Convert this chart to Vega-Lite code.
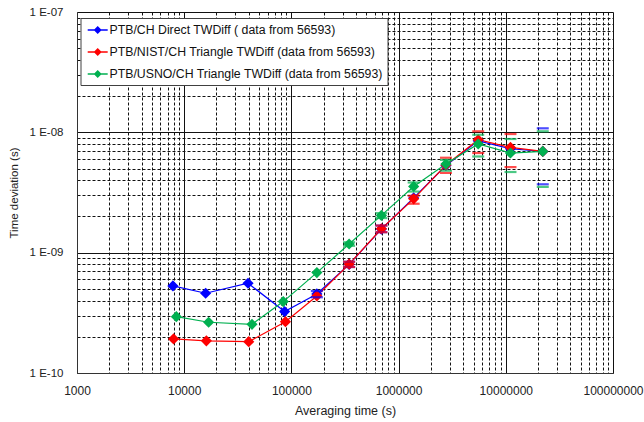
{
  "$schema": "https://vega.github.io/schema/vega-lite/v6.json",
  "autosize": {"type": "none"},
  "width": 536,
  "height": 361,
  "padding": {"left": 77, "top": 12, "right": 31, "bottom": 49},
  "background": "white",
  "config": {
    "font": "Liberation Sans",
    "view": {"stroke": null}
  },
  "data": {
    "values": [
      {"series": "PTB/CH Direct TWDiff ( data from 56593)", "tau": 7850, "tdev": 5.29e-10},
      {"series": "PTB/CH Direct TWDiff ( data from 56593)", "tau": 15850, "tdev": 4.60e-10},
      {"series": "PTB/CH Direct TWDiff ( data from 56593)", "tau": 39400, "tdev": 5.57e-10},
      {"series": "PTB/CH Direct TWDiff ( data from 56593)", "tau": 86400, "tdev": 3.24e-10},
      {"series": "PTB/CH Direct TWDiff ( data from 56593)", "tau": 172800, "tdev": 4.54e-10, "lo": 4.26e-10, "hi": 4.8e-10},
      {"series": "PTB/CH Direct TWDiff ( data from 56593)", "tau": 345600, "tdev": 8.0e-10, "lo": 7.6e-10, "hi": 8.4e-10},
      {"series": "PTB/CH Direct TWDiff ( data from 56593)", "tau": 691200, "tdev": 1.57e-9, "lo": 1.48e-9, "hi": 1.68e-9},
      {"series": "PTB/CH Direct TWDiff ( data from 56593)", "tau": 1382400, "tdev": 2.85e-9},
      {"series": "PTB/CH Direct TWDiff ( data from 56593)", "tau": 2764800, "tdev": 5.3e-9},
      {"series": "PTB/CH Direct TWDiff ( data from 56593)", "tau": 5529600, "tdev": 8.5e-9},
      {"series": "PTB/CH Direct TWDiff ( data from 56593)", "tau": 11059200, "tdev": 7.3e-9},
      {"series": "PTB/CH Direct TWDiff ( data from 56593)", "tau": 22118400, "tdev": 6.94e-9, "lo": 3.7e-9, "hi": 1.08e-8},
      {"series": "PTB/NIST/CH Triangle TWDiff (data from 56593)", "tau": 7960, "tdev": 1.92e-10},
      {"series": "PTB/NIST/CH Triangle TWDiff (data from 56593)", "tau": 16100, "tdev": 1.85e-10},
      {"series": "PTB/NIST/CH Triangle TWDiff (data from 56593)", "tau": 40000, "tdev": 1.82e-10},
      {"series": "PTB/NIST/CH Triangle TWDiff (data from 56593)", "tau": 88000, "tdev": 2.67e-10},
      {"series": "PTB/NIST/CH Triangle TWDiff (data from 56593)", "tau": 172800, "tdev": 4.37e-10},
      {"series": "PTB/NIST/CH Triangle TWDiff (data from 56593)", "tau": 345600, "tdev": 8.02e-10, "lo": 7.6e-10, "hi": 8.4e-10},
      {"series": "PTB/NIST/CH Triangle TWDiff (data from 56593)", "tau": 691200, "tdev": 1.58e-9, "lo": 1.48e-9, "hi": 1.68e-9},
      {"series": "PTB/NIST/CH Triangle TWDiff (data from 56593)", "tau": 1382400, "tdev": 2.80e-9, "lo": 2.55e-9, "hi": 2.97e-9},
      {"series": "PTB/NIST/CH Triangle TWDiff (data from 56593)", "tau": 2764800, "tdev": 5.35e-9, "lo": 4.6e-9, "hi": 6.15e-9},
      {"series": "PTB/NIST/CH Triangle TWDiff (data from 56593)", "tau": 5529600, "tdev": 8.68e-9, "lo": 6.73e-9, "hi": 1.02e-8},
      {"series": "PTB/NIST/CH Triangle TWDiff (data from 56593)", "tau": 11059200, "tdev": 7.49e-9, "lo": 5.14e-9, "hi": 9.68e-9},
      {"series": "PTB/NIST/CH Triangle TWDiff (data from 56593)", "tau": 22118400, "tdev": 6.94e-9},
      {"series": "PTB/USNO/CH Triangle TWDiff (data from 56593)", "tau": 8450, "tdev": 2.94e-10},
      {"series": "PTB/USNO/CH Triangle TWDiff (data from 56593)", "tau": 16900, "tdev": 2.64e-10},
      {"series": "PTB/USNO/CH Triangle TWDiff (data from 56593)", "tau": 42900, "tdev": 2.54e-10},
      {"series": "PTB/USNO/CH Triangle TWDiff (data from 56593)", "tau": 84000, "tdev": 3.92e-10},
      {"series": "PTB/USNO/CH Triangle TWDiff (data from 56593)", "tau": 172800, "tdev": 6.83e-10},
      {"series": "PTB/USNO/CH Triangle TWDiff (data from 56593)", "tau": 345600, "tdev": 1.18e-9, "lo": 1.14e-9, "hi": 1.22e-9},
      {"series": "PTB/USNO/CH Triangle TWDiff (data from 56593)", "tau": 691200, "tdev": 2.04e-9, "lo": 1.94e-9, "hi": 2.13e-9},
      {"series": "PTB/USNO/CH Triangle TWDiff (data from 56593)", "tau": 1382400, "tdev": 3.55e-9, "lo": 3.22e-9, "hi": 3.83e-9},
      {"series": "PTB/USNO/CH Triangle TWDiff (data from 56593)", "tau": 2764800, "tdev": 5.45e-9, "lo": 4.8e-9, "hi": 5.9e-9},
      {"series": "PTB/USNO/CH Triangle TWDiff (data from 56593)", "tau": 5529600, "tdev": 8.0e-9, "lo": 6.3e-9, "hi": 9.55e-9},
      {"series": "PTB/USNO/CH Triangle TWDiff (data from 56593)", "tau": 11059200, "tdev": 6.73e-9, "lo": 4.68e-9, "hi": 8.8e-9},
      {"series": "PTB/USNO/CH Triangle TWDiff (data from 56593)", "tau": 22118400, "tdev": 6.94e-9, "lo": 3.52e-9, "hi": 1.02e-8}
    ]
  },
  "encoding": {
    "x": {
      "field": "tau",
      "type": "quantitative",
      "scale": {"type": "log", "domain": [1000, 100000000], "nice": false},
      "axis": {
        "title": "Averaging time (s)",
        "values": [1000, 2000, 3000, 4000, 5000, 6000, 7000, 8000, 9000, 10000, 20000, 30000, 40000, 50000, 60000, 70000, 80000, 90000, 100000, 200000, 300000, 400000, 500000, 600000, 700000, 800000, 900000, 1000000, 2000000, 3000000, 4000000, 5000000, 6000000, 7000000, 8000000, 9000000, 10000000, 20000000, 30000000, 40000000, 50000000, 60000000, 70000000, 80000000, 90000000, 100000000],
        "labelExpr": "indexof([1000,10000,100000,1000000,10000000,100000000], datum.value) >= 0 ? format(datum.value, 'd') : ''",
        "labelFlush": false,
        "labelOverlap": false,
        "labelFontSize": 12,
        "labelColor": "#222",
        "labelPadding": 12,
        "ticks": false,
        "domainColor": "#333",
        "grid": true,
        "gridColor": "#111",
        "gridOpacity": 1,
        "gridWidth": 1,
        "gridDash": {"condition": {"test": "indexof([1000,10000,100000,1000000,10000000,100000000], datum.value) >= 0", "value": []}, "value": [3, 2]},
        "titleFontSize": 12.5,
        "titleFontWeight": "normal",
        "titleColor": "#222",
        "titlePadding": 8
      }
    },
    "y": {
      "field": "tdev",
      "type": "quantitative",
      "scale": {"type": "log", "domain": [1e-10, 1e-7], "nice": false},
      "axis": {
        "title": "Time deviation (s)",
        "values": [1e-10, 2e-10, 3e-10, 4e-10, 5e-10, 6e-10, 7e-10, 8e-10, 9e-10, 1e-9, 2e-9, 3e-9, 4e-9, 5e-9, 6e-9, 7e-9, 8e-9, 9e-9, 1e-8, 2e-8, 3e-8, 4e-8, 5e-8, 6e-8, 7e-8, 8e-8, 9e-8, 1e-7],
        "labelExpr": "datum.value == 1e-7 ? '1 E-07' : datum.value == 1e-8 ? '1 E-08' : datum.value == 1e-9 ? '1 E-09' : datum.value == 1e-10 ? '1 E-10' : ''",
        "labelOverlap": false,
        "labelFlush": false,
        "labelFontSize": 11.5,
        "labelColor": "#222",
        "labelPadding": 14,
        "ticks": false,
        "domainColor": "#333",
        "grid": true,
        "gridColor": "#111",
        "gridOpacity": 1,
        "gridWidth": 1,
        "gridDash": {"condition": {"test": "indexof([1e-10,1e-9,1e-8,1e-7], datum.value) >= 0", "value": []}, "value": [3, 2]},
        "titleFontSize": 11.5,
        "titleFontWeight": "normal",
        "titleColor": "#222",
        "titlePadding": 10
      }
    },
    "color": {
      "field": "series",
      "type": "nominal",
      "scale": {
        "domain": ["PTB/CH Direct TWDiff ( data from 56593)", "PTB/NIST/CH Triangle TWDiff (data from 56593)", "PTB/USNO/CH Triangle TWDiff (data from 56593)"],
        "range": ["#0000FF", "#FF0000", "#00B050"]
      },
      "legend": {
        "title": null,
        "orient": "none",
        "legendX": 3.5,
        "legendY": 6,
        "padding": 4,
        "rowPadding": 7,
        "labelOffset": 9,
        "labelLimit": 0,
        "labelFontSize": 12.3,
        "labelColor": "#111",
        "fillColor": "white",
        "strokeColor": "#404040",
        "symbolType": "M-0.6,-0.09L1.9,-0.09L1.9,0.09L-0.6,0.09Z M0.15,0L0.65,-0.5L1.15,0L0.65,0.5Z",
        "symbolSize": 256,
        "symbolStrokeWidth": 0,
        "symbolOpacity": 1,
        "encode": {"symbols": {"update": {"fill": {"scale": "color", "field": "value"}}}}
      }
    }
  },
  "layer": [
    {
      "mark": {"type": "line", "strokeWidth": 1.2}
    },
    {
      "mark": {"type": "point", "shape": "diamond", "filled": true, "size": 125, "opacity": 1}
    },
    {
      "mark": {"type": "tick", "orient": "horizontal", "size": 12, "thickness": 2.2},
      "encoding": {
        "y": {"field": "lo", "type": "quantitative"}
      }
    },
    {
      "mark": {"type": "tick", "orient": "horizontal", "size": 12, "thickness": 2.2},
      "encoding": {
        "y": {"field": "hi", "type": "quantitative"}
      }
    }
  ]
}
